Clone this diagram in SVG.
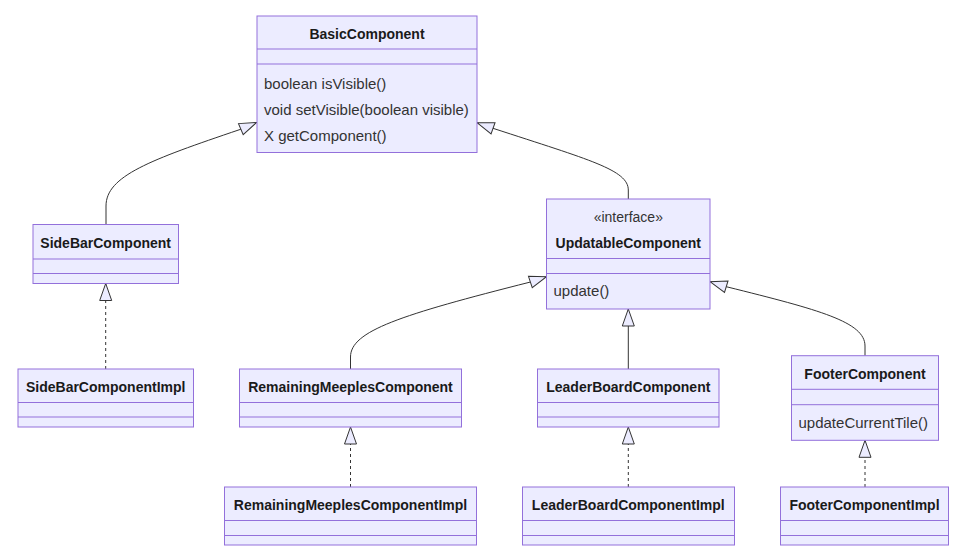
<svg xmlns="http://www.w3.org/2000/svg" width="956" height="551" viewBox="0 0 956 551">
<style>
.box{fill:#ECECFF;stroke:#9370DB;stroke-width:1}
.div{stroke:#9370DB;stroke-width:1}
.title{font-family:"Liberation Sans",Arial,sans-serif;font-size:14px;font-weight:bold;fill:#1a1a1a;text-anchor:middle}
.mem{font-family:"Liberation Sans",Arial,sans-serif;font-size:15px;fill:#333}
.stereo{font-family:"Liberation Sans",Arial,sans-serif;font-size:14px;fill:#333;text-anchor:middle}
.edge{fill:none;stroke:#333;stroke-width:1}
.dash{stroke-dasharray:3,3}
</style>
<defs>
<marker id="ext" markerUnits="userSpaceOnUse" viewBox="-19 -8 21 16" refX="0" refY="0" markerWidth="21" markerHeight="16" orient="auto" overflow="visible">
<path d="M0,0 L-17,-6 L-17,6 Z" fill="#ECECFF" stroke="#333" stroke-width="1" stroke-dasharray="none"/>
</marker>
</defs>
<g id="connectors">
<path class="edge" d="M106,224.5 L106,206 C106,176 150,160 240,129.5 L256.5,122.5" marker-end="url(#ext)"/>
<path class="edge" d="M628.3,199 L628.3,190 C628.3,170 590,160 493,128.3 L477,122.7" marker-end="url(#ext)"/>
<path class="edge dash" d="M105.7,369 L105.7,283.5" marker-end="url(#ext)"/>
<path class="edge" d="M350.5,369 L350.5,357 C350.5,331 400,315 530.5,282 L546.5,276.7" marker-end="url(#ext)"/>
<path class="edge dash" d="M350.5,487 L350.5,427" marker-end="url(#ext)"/>
<path class="edge" d="M628.3,369 L628.3,309" marker-end="url(#ext)"/>
<path class="edge dash" d="M628.3,487 L628.3,427" marker-end="url(#ext)"/>
<path class="edge" d="M865,355.7 L865,346 C865,322 820,310 726.7,286.8 L710,281.7" marker-end="url(#ext)"/>
<path class="edge dash" d="M865,487 L865,440.3" marker-end="url(#ext)"/>
</g>
<g id="BasicComponent">
<rect class="box" x="257" y="16" width="220" height="136.5"/>
<line class="div" x1="257" y1="49" x2="477" y2="49"/>
<line class="div" x1="257" y1="64" x2="477" y2="64"/>
<text class="title" x="367" y="39">BasicComponent</text>
<text class="mem" x="264" y="88.5">boolean isVisible()</text>
<text class="mem" x="264" y="114.5">void setVisible(boolean visible)</text>
<text class="mem" x="264" y="140.5">X getComponent()</text>
</g>
<g id="SideBarComponent">
<rect class="box" x="33" y="224.5" width="145.5" height="59"/>
<line class="div" x1="33" y1="259" x2="178.5" y2="259"/>
<line class="div" x1="33" y1="273.5" x2="178.5" y2="273.5"/>
<text class="title" x="105.7" y="247.7">SideBarComponent</text>
</g>
<g id="SideBarComponentImpl">
<rect class="box" x="18" y="369" width="175.5" height="58"/>
<line class="div" x1="18" y1="402.5" x2="193.5" y2="402.5"/>
<line class="div" x1="18" y1="417" x2="193.5" y2="417"/>
<text class="title" x="105.7" y="392.3">SideBarComponentImpl</text>
</g>
<g id="UpdatableComponent">
<rect class="box" x="546.5" y="199" width="163.5" height="110"/>
<line class="div" x1="546.5" y1="258.5" x2="710" y2="258.5"/>
<line class="div" x1="546.5" y1="273.5" x2="710" y2="273.5"/>
<text class="stereo" x="628.3" y="222.3">«interface»</text>
<text class="title" x="628.3" y="247.7">UpdatableComponent</text>
<text class="mem" x="553.5" y="296.2">update()</text>
</g>
<g id="RemainingMeeplesComponent">
<rect class="box" x="239.5" y="369" width="222" height="58"/>
<line class="div" x1="239.5" y1="402.5" x2="461.5" y2="402.5"/>
<line class="div" x1="239.5" y1="417" x2="461.5" y2="417"/>
<text class="title" x="350.5" y="392.3">RemainingMeeplesComponent</text>
</g>
<g id="LeaderBoardComponent">
<rect class="box" x="537.5" y="369" width="181.5" height="58"/>
<line class="div" x1="537.5" y1="402.5" x2="719" y2="402.5"/>
<line class="div" x1="537.5" y1="417" x2="719" y2="417"/>
<text class="title" x="628.3" y="392.3">LeaderBoardComponent</text>
</g>
<g id="FooterComponent">
<rect class="box" x="791.5" y="355.7" width="147" height="84.6"/>
<line class="div" x1="791.5" y1="389.3" x2="938.5" y2="389.3"/>
<line class="div" x1="791.5" y1="404.7" x2="938.5" y2="404.7"/>
<text class="title" x="865" y="379">FooterComponent</text>
<text class="mem" x="798.5" y="427.5">updateCurrentTile()</text>
</g>
<g id="RemainingMeeplesComponentImpl">
<rect class="box" x="224.5" y="487" width="252" height="58"/>
<line class="div" x1="224.5" y1="520.5" x2="476.5" y2="520.5"/>
<line class="div" x1="224.5" y1="535.5" x2="476.5" y2="535.5"/>
<text class="title" x="350.5" y="510.3">RemainingMeeplesComponentImpl</text>
</g>
<g id="LeaderBoardComponentImpl">
<rect class="box" x="522.5" y="487" width="212" height="58"/>
<line class="div" x1="522.5" y1="520.5" x2="734.5" y2="520.5"/>
<line class="div" x1="522.5" y1="535.5" x2="734.5" y2="535.5"/>
<text class="title" x="628.3" y="510.3">LeaderBoardComponentImpl</text>
</g>
<g id="FooterComponentImpl">
<rect class="box" x="780.5" y="487" width="168" height="58"/>
<line class="div" x1="780.5" y1="520.5" x2="948.5" y2="520.5"/>
<line class="div" x1="780.5" y1="535.5" x2="948.5" y2="535.5"/>
<text class="title" x="864.5" y="510.3">FooterComponentImpl</text>
</g>
</svg>
